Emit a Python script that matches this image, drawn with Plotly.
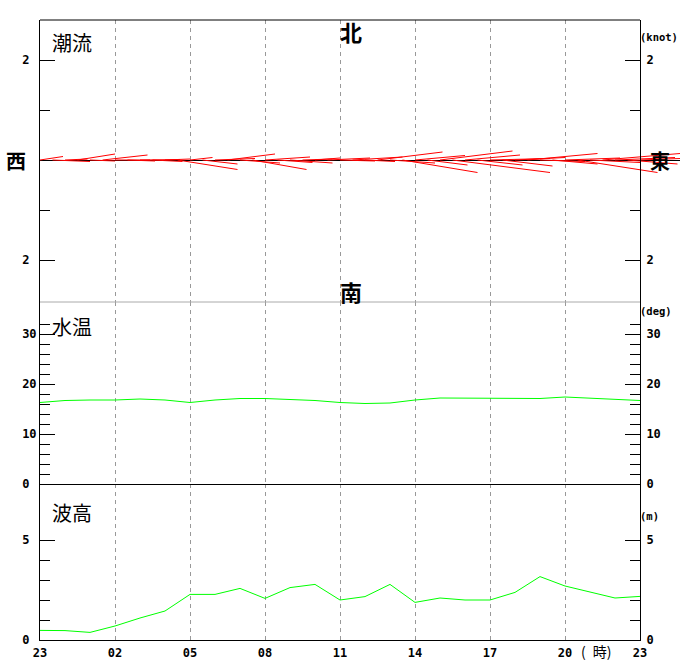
import plotly.graph_objects as go

# ---------------- data ----------------
hour_labels = ["23", "02", "05", "08", "11", "14", "17", "20", "23"]
hour_ticks = [0, 3, 6, 9, 12, 15, 18, 21, 24]

# water temperature (deg C), hourly from 23:00
temp_hours = [0, 1, 2, 3, 4, 5, 6, 7, 8, 9, 10, 11, 12, 13, 14, 15, 16, 17, 18, 19, 20, 21, 22, 23, 24]
temp_vals = [16.3, 16.7, 16.8, 16.8, 17.0, 16.8, 16.3, 16.8, 17.1, 17.1, 16.9, 16.7, 16.3,
             16.1, 16.2, 16.8, 17.2, 17.2, 17.2, 17.1, 17.1, 17.4, 17.2, 16.9, 16.7]

# wave height (m), hourly from 23:00
wave_hours = temp_hours
wave_vals = [0.48, 0.47, 0.38, 0.70, 1.10, 1.45, 2.28, 2.28, 2.58, 2.08, 2.62, 2.78, 2.00,
             2.17, 2.78, 1.88, 2.10, 2.00, 2.00, 2.38, 3.17, 2.70, 2.40, 2.10, 2.18]

# tidal current sticks, every 30 min: east (u) and north (v) components in knots
cur_hours = [0, 0.5, 1, 1.5, 2, 2.5, 3, 3.5, 4, 4.5, 5, 5.5, 6, 6.5, 7, 7.5, 8, 8.5, 9, 9.5,
             10, 10.5, 11, 11.5, 12, 12.5, 13, 13.5, 14, 14.5, 15, 15.5, 16, 16.5, 17, 17.5,
             18, 18.5, 19, 19.5, 20, 20.5, 21, 21.5, 22, 22.5, 23, 23.5, 24]
cur_u = [0.46, 0.75, 0.45, 0.75, 0.50, 0.90, 0.70, 0.55, 0.80, 0.60, 0.50, 1.20, 0.45, 0.70,
         0.80, 0.95, 0.80, 1.08, 0.90, 0.70, 0.85, 0.60, 0.50, 0.85, 0.70, 1.00, 0.60, 1.30,
         0.90, 1.50, 1.00, 0.80, 1.45, 1.95, 1.10, 0.90, 1.20, 1.00, 1.00, 1.40, 0.90, 0.90,
         1.10, 1.60, 1.00, 1.55, 1.20, 1.00, 0.80]
cur_v = [0.07, -0.03, 0.02, 0.12, -0.02, 0.10, 0.00, -0.02, 0.01, -0.03, 0.02, -0.19, 0.05,
         -0.08, 0.03, 0.12, -0.06, -0.19, 0.06, -0.05, -0.06, 0.02, 0.04, 0.04, -0.02, 0.06,
         -0.03, 0.16, -0.06, -0.25, 0.09, -0.10, 0.18, -0.25, 0.10, -0.10, 0.03, -0.12, 0.05,
         0.13, -0.03, -0.08, 0.04, -0.25, -0.05, 0.13, 0.05, -0.08, 0.03]

# ---------------- geometry (page pixels) ----------------
W, H = 680, 660
PLOT_L, PLOT_R = 40, 640
P_TOP, P12, P23, P_BOT = 20, 302, 484, 640
ML, MR, MT, MB = PLOT_L, 0, P_TOP, H - P_BOT
PW, PH = W - ML - MR, H - MT - MB


def fx(p):
    return (p - PLOT_L) / PW


def fy(p):
    return (P_BOT - p) / PH


XR = fx(PLOT_R)
Y1_RANGE = [-2.84, 2.8]
Y2_RANGE = [0, 36.4]
Y3_RANGE = [0, 7.8]
hour_px = (PLOT_R - PLOT_L) / 24.0
knot_px = (P12 - P_TOP) / (Y1_RANGE[1] - Y1_RANGE[0])
stick_scale = knot_px / hour_px  # hours of x per knot east
x3_max = PW / hour_px

# stick coordinates
sx, sy = [], []
for t, u, v in zip(cur_hours, cur_u, cur_v):
    sx += [t, t + u * stick_scale, None]
    sy += [0, v, None]

tick_font = dict(family="DejaVu Sans Mono", size=12, color="black", weight="bold")
NB = "\u00a0"

fig = go.Figure()
fig.add_trace(go.Scatter(x=wave_hours, y=wave_vals, mode="lines",
                         line=dict(color="#00ff00", width=1), xaxis="x", yaxis="y",
                         hoverinfo="skip", showlegend=False))
fig.add_trace(go.Scatter(x=[None], y=[None], xaxis="x", yaxis="y2", showlegend=False))
fig.add_trace(go.Scatter(x=temp_hours, y=temp_vals, mode="lines",
                         line=dict(color="#00ff00", width=1), xaxis="x2", yaxis="y3",
                         hoverinfo="skip", showlegend=False))
fig.add_trace(go.Scatter(x=[None], y=[None], xaxis="x2", yaxis="y4", showlegend=False))
fig.add_trace(go.Scatter(x=sx, y=sy, mode="lines", line=dict(color="#ff0000", width=1),
                         xaxis="x3", yaxis="y5", hoverinfo="skip", showlegend=False))
fig.add_trace(go.Scatter(x=[None], y=[None], xaxis="x3", yaxis="y6", showlegend=False))


def yax(dom, rng, major, minor, labels, side="left", **kw):
    d = dict(domain=dom, range=rng, showline=True, linecolor="black", linewidth=1,
             showgrid=False, zeroline=False, ticks="inside", ticklen=15, tickwidth=1,
             tickcolor="black", tickmode="array", tickvals=major, ticktext=labels,
             tickfont=tick_font, side=side, fixedrange=True, automargin=False,
             ticklabelstandoff=(3 if side == "right" else 0),
             minor=dict(ticks="inside", ticklen=10, tickwidth=1, tickcolor="black",
                        tickmode="array", tickvals=minor, showgrid=False))
    d.update(kw)
    return d


grid = dict(showgrid=True, gridcolor="#999999", gridwidth=1, griddash="4px,4px")

d3 = [0.0, fy(P23)]
d2 = [fy(P23), fy(P12)]
d1 = [fy(P12), 1.0]
temp_minor = [2, 4, 6, 8, 12, 14, 16, 18, 22, 24, 26, 28, 32]

fig.update_layout(
    width=W, height=H, autosize=False, margin=dict(l=ML, r=MR, t=MT, b=MB),
    paper_bgcolor="white", plot_bgcolor="white", showlegend=False,
    xaxis=dict(domain=[0, XR], range=[0, 24], anchor="y", tickmode="array",
               tickvals=hour_ticks, ticktext=hour_labels, ticks="", tickfont=tick_font,
               ticklabelstandoff=2, automargin=False,
               showline=True, linecolor="black", linewidth=1, zeroline=False,
               fixedrange=True, **grid),
    xaxis2=dict(domain=[0, XR], range=[0, 24], anchor="y3", tickmode="array",
                tickvals=hour_ticks, showticklabels=False, ticks="", showline=True,
                linecolor="black", linewidth=1, zeroline=False, fixedrange=True,
                automargin=False, **grid),
    xaxis3=dict(domain=[0, 1], range=[0, x3_max], anchor="y5", tickmode="array",
                tickvals=hour_ticks[1:-1], showticklabels=False, ticks="", showline=False,
                zeroline=False, fixedrange=True, automargin=False, **grid),
    yaxis=yax(d3, Y3_RANGE, [0, 5], [1, 2, 3, 4], ["0" + NB, "5" + NB], anchor="x"),
    yaxis2=yax(d3, Y3_RANGE, [0, 5], [1, 2, 3, 4], ["0", "5"], side="right",
               overlaying="y", anchor="x"),
    yaxis3=yax(d2, Y2_RANGE, [0, 10, 20, 30], temp_minor,
               ["0" + NB, "10", "20", "30"], anchor="x2"),
    yaxis4=yax(d2, Y2_RANGE, [0, 10, 20, 30], temp_minor,
               ["0", "10", "20", "30"], side="right", overlaying="y3", anchor="x2"),
    yaxis5=yax(d1, Y1_RANGE, [-2, 2], [-1, 1], ["2" + NB, "2" + NB], anchor="x3",
               zeroline=True, zerolinecolor="black", zerolinewidth=1),
    yaxis6=yax(d1, Y1_RANGE, [-2, 2], [-1, 1], ["2", "2"], side="right",
               overlaying="y5", anchor="free", position=XR),
)

# borders
fig.add_shape(type="line", xref="paper", yref="paper", x0=0, x1=XR, y0=1, y1=1,
              line=dict(color="black", width=1))
fig.add_shape(type="line", xref="paper", yref="paper", x0=0, x1=XR, y0=fy(P12), y1=fy(P12),
              line=dict(color="#aaaaaa", width=1))

cjk = "Noto Sans CJK JP"


def note(text, x, y, size, xanchor="center", family=cjk, weight="normal", pad=1):
    fig.add_annotation(text=text, x=fx(x), y=fy(y), xref="paper", yref="paper",
                       xanchor=xanchor, yanchor="middle", showarrow=False, borderpad=pad,
                       font=dict(family=family, size=size, color="black", weight=weight))


note("潮流", 50, 42, 20, xanchor="left")
note("水温", 50, 326, 20, xanchor="left")
note("波高", 50, 512, 20, xanchor="left")
note("北", 351, 31, 22, weight="bold")
note("南", 351, 291, 22, weight="bold")
note("西", 16, 160, 20, weight="bold", pad=0)
note("東", 660, 160, 20, weight="bold", pad=0)
note("(knot)", 639, 37, 10.5, xanchor="left", family="DejaVu Sans Mono", weight="bold", pad=0)
note("(deg)", 639, 311, 10.5, xanchor="left", family="DejaVu Sans Mono", weight="bold", pad=0)
note("(m)", 639, 516, 10.5, xanchor="left", family="DejaVu Sans Mono", weight="bold", pad=0)
note("(\u2002時)", 596, 651, 14, family=cjk)

fig.write_html("out.html", config={"displayModeBar": False},
               post_script="document.body.style.margin='0';")
